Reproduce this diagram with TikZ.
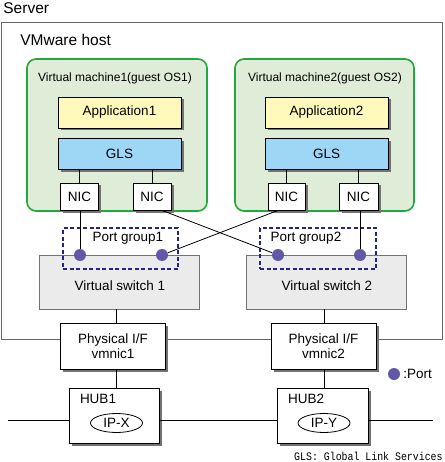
\documentclass[tikz,border=0pt]{standalone}
\usepackage{fontspec}
\setmainfont{Liberation Sans}
\newfontfamily\legendfont[FakeStretch=0.86]{Liberation Mono}
\usetikzlibrary{shapes,positioning,calc,shadows}
\definecolor{vmgreen}{RGB}{34,168,64}
\definecolor{vmfill}{RGB}{222,236,216}
\definecolor{appyellow}{RGB}{255,250,188}
\definecolor{glsblue}{RGB}{158,214,245}
\definecolor{pgblue}{RGB}{35,35,140}
\definecolor{portviolet}{RGB}{98,88,168}
\tikzstyle{server} = [rectangle, draw=black!60, line width=1pt]
\tikzstyle{vmbox} = [rectangle, draw=vmgreen, line width=1.6pt, fill=vmfill, rounded corners=9pt, minimum width=180pt, minimum height=152pt]
\tikzstyle{block} = [rectangle, draw, line width=0.8pt, drop shadow={shadow xshift=2.5pt, shadow yshift=-2.5pt, fill=black!55, opacity=1}]
\tikzstyle{app} = [block, fill=appyellow, minimum width=123pt, minimum height=31pt]
\tikzstyle{gls} = [block, fill=glsblue, minimum width=123pt, minimum height=31pt]
\tikzstyle{nic} = [block, fill=white, minimum width=38pt, minimum height=27pt]
\tikzstyle{phys} = [block, fill=white, minimum width=105pt, minimum height=46pt, align=center]
\tikzstyle{hub} = [block, fill=white, minimum width=90pt, minimum height=55pt]
\tikzstyle{vswitch} = [rectangle, draw=black!55, line width=0.8pt, fill=black!8, minimum width=160pt, minimum height=54pt]
\tikzstyle{pgroup} = [rectangle, draw=pgblue, line width=1.2pt, dash pattern=on 4pt off 2.5pt, minimum width=115pt, minimum height=41pt]
\tikzstyle{port} = [circle, fill=portviolet, minimum size=12pt]
\tikzstyle{ip} = [ellipse, draw, line width=0.8pt, fill=white, minimum width=52pt, minimum height=19pt]
\tikzstyle{title} = [font=\fontsize{15.5}{17}\selectfont]
\tikzstyle{vmtitle} = [font=\fontsize{12}{14}\selectfont]

\begin{document}
\begin{tikzpicture}[x=1pt, y=-1pt, inner sep=0pt, line width=0.8pt, font=\fontsize{13.5}{15}\selectfont]
    \useasboundingbox (0,0) rectangle (444,462);

    % server and host
    \node[server, anchor=north west, minimum width=441pt, minimum height=317pt] (srv) at (1,22) {};
    \node[title, anchor=base west] (srvlbl) at (3,14) {Server};
    \node[title, anchor=base west] (hostlbl) at (20,46) {VMware host};

    % virtual machines
    \node[vmbox] (vm1) at (117,135) {};
    \node[vmbox, minimum width=179pt] (vm2) at (324.5,135) {};
    \node[vmtitle] (vm1lbl) at (115,78) {Virtual machine1(guest OS1)};
    \node[vmtitle] (vm2lbl) at (325,78) {Virtual machine2(guest OS2)};

    \node[app] (app1) at (119.5,112.5) {Application1};
    \node[gls, below=10pt of app1] (gls1) {GLS};
    \node[nic] (nic1a) at (79.5,196.5) {NIC};
    \node[nic] (nic1b) at (152,196.5) {NIC};

    \node[app] (app2) at (326.5,112.5) {Application2};
    \node[gls, below=10pt of app2] (gls2) {GLS};
    \node[nic, minimum width=37pt] (nic2a) at (286.5,196.5) {NIC};
    \node[nic, minimum width=39pt] (nic2b) at (358.5,196.5) {NIC};

    \draw (gls1.south -| nic1a) -- (nic1a);
    \draw (gls1.south -| nic1b) -- (nic1b);
    \draw (gls2.south -| nic2a) -- (nic2a);
    \draw (gls2.south -| nic2b) -- (nic2b);

    % virtual switches and port groups
    \node[vswitch] (vs1) at (119,282) {};
    \node[vswitch] (vs2) at (326,282) {};
    \node (vs1lbl) at (120,286) {Virtual switch 1};
    \node (vs2lbl) at (327,286) {Virtual switch 2};

    \node[pgroup] (pg1) at (120.5,248.5) {};
    \node[pgroup, minimum width=116pt] (pg2) at (318,248.5) {};
    \node (pg1lbl) at (128,238) {Port group1};
    \node (pg2lbl) at (306,238) {Port group2};

    \node[port] (port1a) at (80,255) {};
    \node[port] (port1b) at (162,255) {};
    \node[port] (port2a) at (278,255) {};
    \node[port] (port2b) at (360,255) {};

    \draw (nic1a.south -| port1a) -- (port1a);
    \draw (nic1b.south -| port1b) -- (port2a);
    \draw (nic2a.south -| port2a) -- (port1b);
    \draw (nic2b.south -| port2b) -- (port2b);

    % physical side
    \node[phys] (phys1) at (113,346) {Physical I/F\\vmnic1};
    \node[phys] (phys2) at (323.5,346) {Physical I/F\\vmnic2};
    \node[hub] (hub1) at (114,415.5) {};
    \node[hub, minimum width=91pt] (hub2) at (322.5,415.5) {};
    \node[anchor=north west] (hub1lbl) at ([xshift=11pt, yshift=-6pt]hub1.north west) {HUB1};
    \node[anchor=north west] (hub2lbl) at ([xshift=11pt, yshift=-6pt]hub2.north west) {HUB2};
    \node[ip] (ip1) at (116.5,423) {IP-X};
    \node[ip] (ip2) at (324,423) {IP-Y};

    \draw (vs1.south -| ip1) -- (phys1.north -| ip1);
    \draw (vs2.south -| ip2) -- (phys2.north -| ip2);
    \draw (phys1.south -| ip1) -- (hub1.north -| ip1);
    \draw (phys2.south -| ip2) -- (hub2.north -| ip2);

    \coordinate (netL) at (8,420);
    \coordinate (netR) at (433,420);
    \draw (netL) -- (hub1.west |- netL);
    \draw (hub1.east |- netL) -- (hub2.west |- netL);
    \draw (hub2.east |- netL) -- (netR);

    % legend
    \node[port] (legport) at (394,374) {};
    \node[anchor=west, xshift=2.5pt] (legtext) at (legport.east) {:Port};
    \node[anchor=base east, font=\legendfont\fontsize{11.5}{12}\selectfont] (glsnote) at (443,460) {GLS: Global Link Services};
\end{tikzpicture}
\end{document}
